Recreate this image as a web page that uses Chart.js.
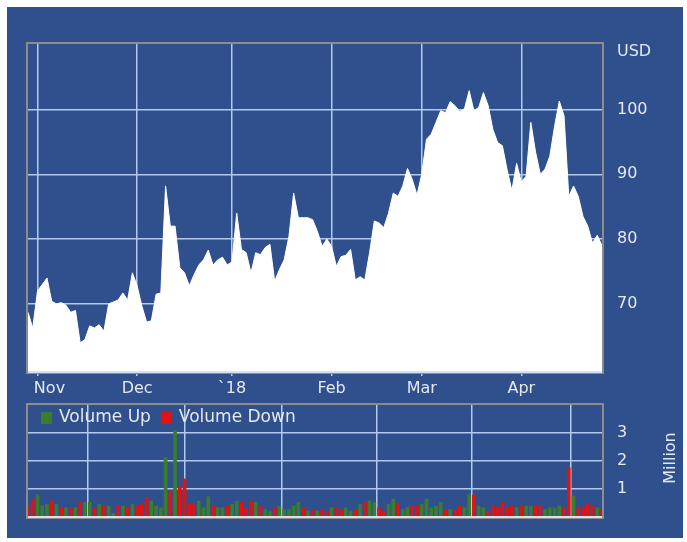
<!DOCTYPE html>
<html>
<head>
<meta charset="utf-8">
<script src="https://cdn.jsdelivr.net/npm/chart.js@4.4.1/dist/chart.umd.min.js"></script>
<style>
html, body { margin: 0; padding: 0; background: #ffffff; }
#bg { position: absolute; left: 7px; top: 7px; width: 676px; height: 531px; background: #2f508c; }
canvas { position: absolute; left: 0; top: 0; }
</style>
</head>
<body>
<div id="bg"></div>
<canvas id="price" width="687" height="542"></canvas>
<canvas id="volume" width="687" height="542"></canvas>
<script>
// trading days Oct 30 2017 .. Apr 25 2018 (weekends + market holidays skipped)
const firstDay = '2017-10-30';
const lastDay = '2018-04-25';
const holidays = ['2017-11-23', '2017-12-25', '2018-01-01', '2018-01-15', '2018-02-19', '2018-03-30'];

const monthKeys = ['2017-11', '2017-12', '2018-01', '2018-02', '2018-03', '2018-04'];
const monthLabels = ['Nov', 'Dec', '`18', 'Feb', 'Mar', 'Apr'];

const priceTicks = [70, 80, 90, 100];
const volumeTicks = [1, 2, 3];

const priceClose = [
  68.7, 66.3, 72.0, 73.0, 74.0, 70.4, 70.0, 70.2, 69.8, 68.7,
  69.0, 64.0, 64.5, 66.6, 66.3, 66.8, 65.8, 70.0, 70.3, 70.6,
  71.7, 70.6, 74.8, 72.8, 69.7, 67.2, 67.4, 71.5, 71.7, 88.2,
  82.0, 82.0, 75.6, 74.8, 72.8, 74.5, 76.0, 76.8, 78.3, 76.0,
  76.8, 77.2, 76.0, 76.5, 84.0, 78.4, 77.9, 74.8, 77.9, 77.6,
  78.7, 79.2, 73.5, 75.3, 76.8, 80.4, 87.1, 83.3, 83.3, 83.3,
  83.0, 81.2, 78.9, 80.0, 78.9, 75.8, 77.3, 77.5, 78.4, 73.7,
  74.2, 73.7, 77.9, 82.8, 82.5, 81.8, 84.0, 87.1, 86.6, 88.2,
  90.9, 89.2, 86.8, 90.0, 95.4, 96.2, 98.0, 99.8, 99.5, 101.2,
  100.6, 99.7, 100.1, 102.9, 99.8, 100.3, 102.6, 100.6, 96.9, 94.9,
  94.4, 90.7, 87.5, 91.7, 88.8, 89.7, 98.0, 93.4, 90.0, 90.8,
  92.8, 97.4, 101.3, 99.0, 86.6, 88.2, 86.6, 83.5, 82.0, 79.4,
  80.6, 79.0
];

const volumeMillions = [
  0.43, 0.64, 0.79, 0.40, 0.45, 0.57, 0.45, 0.33, 0.33, 0.33,
  0.33, 0.52, 0.52, 0.52, 0.33, 0.45, 0.40, 0.39, 0.13, 0.39,
  0.39, 0.33, 0.45, 0.40, 0.45, 0.70, 0.57, 0.39, 0.33, 2.13,
  0.93, 3.08, 1.08, 1.36, 0.45, 0.45, 0.57, 0.33, 0.72, 0.39,
  0.33, 0.33, 0.39, 0.45, 0.57, 0.52, 0.33, 0.57, 0.52, 0.39,
  0.27, 0.21, 0.33, 0.39, 0.27, 0.27, 0.39, 0.52, 0.33, 0.21,
  0.27, 0.21, 0.27, 0.21, 0.33, 0.33, 0.27, 0.33, 0.21, 0.27,
  0.45, 0.52, 0.57, 0.52, 0.33, 0.21, 0.45, 0.64, 0.45, 0.27,
  0.33, 0.39, 0.39, 0.45, 0.64, 0.33, 0.39, 0.52, 0.27, 0.27,
  0.27, 0.39, 0.33, 0.79, 0.79, 0.39, 0.33, 0.21, 0.39, 0.33,
  0.52, 0.33, 0.39, 0.33, 0.39, 0.39, 0.39, 0.39, 0.39, 0.27,
  0.33, 0.33, 0.39, 0.33, 1.76, 0.76, 0.33, 0.33, 0.45, 0.39,
  0.33, 0.27
];

// U = volume up day, D = volume down day
const volumeDirection = (
  'DDUUUDUDUD' + 'UDUUDUDUUD' + 'UDUDDDUUUU' + 'DUDDDDUUUD' + 'UUDUUDDDUD' +
  'UUDUUUUUDU' + 'DUDDUDDUUD' + 'UDUUDDUUDU' + 'UDDUUUUUDU' + 'DDUUDUUDDD' +
  'DDDUDUUDDU' + 'UUUDDUDDDD' + 'UD'
).split('');

const gridColor = '#b2c9f0';
const frameColor = '#8c8c8c';
const textColor = '#e4e8f0';
const upColor = '#3b7d2e';
const downColor = '#e01212';
const axisFont = { family: 'DejaVu Sans', size: 16 };

function buildTradingDays() {
  const out = [];
  const d = new Date(firstDay + 'T12:00:00Z');
  const end = new Date(lastDay + 'T12:00:00Z');
  while (d <= end) {
    const iso = d.toISOString().slice(0, 10);
    const wd = d.getUTCDay();
    if (wd !== 0 && wd !== 6 && !holidays.includes(iso)) out.push(iso);
    d.setUTCDate(d.getUTCDate() + 1);
  }
  return out;
}

const tradingDays = buildTradingDays();
const monthStart = monthKeys.map(m => tradingDays.findIndex(day => day.startsWith(m)));

function keepMonthTicks(scale) {
  scale.ticks = monthStart.map(i => ({ value: i }));
}

const framePlugin = {
  id: 'frame',
  afterDraw(chart) {
    const { ctx, chartArea: a } = chart;
    ctx.save();
    ctx.strokeStyle = frameColor;
    ctx.lineWidth = 2;
    ctx.strokeRect(a.left - 1, a.top - 1, a.right - a.left + 2, a.bottom - a.top + 2);
    ctx.strokeStyle = '#d6e2f4';
    ctx.beginPath();
    ctx.moveTo(a.left, a.bottom);
    ctx.lineTo(a.right, a.bottom);
    ctx.stroke();
    ctx.restore();
  }
};

const priceExtras = {
  id: 'priceExtras',
  afterDraw(chart) {
    const ctx = chart.ctx;
    ctx.save();
    ctx.fillStyle = textColor;
    ctx.font = '16px "DejaVu Sans"';
    ctx.textBaseline = 'middle';
    ctx.fillText('USD', 617, 52);
    ctx.restore();
  }
};

const volumeExtras = {
  id: 'volumeExtras',
  afterDraw(chart) {
    const ctx = chart.ctx;
    const a = chart.chartArea;
    ctx.save();
    ctx.font = '17px "DejaVu Sans"';
    ctx.textBaseline = 'middle';
    let x = a.left + 13;
    const y = a.top + 13;
    chart.data.datasets.forEach(ds => {
      ctx.fillStyle = ds.backgroundColor;
      ctx.fillRect(x, y - 6, 11, 12);
      ctx.fillStyle = textColor;
      ctx.fillText(ds.label, x + 18, y);
      x += 18 + ctx.measureText(ds.label).width + 10;
    });
    ctx.translate(671, 458);
    ctx.rotate(-Math.PI / 2);
    ctx.textAlign = 'center';
    ctx.font = '16px "DejaVu Sans"';
    ctx.fillText('Million', 0, 0);
    ctx.restore();
  }
};

new Chart(document.getElementById('price'), {
  type: 'line',
  data: {
    labels: tradingDays,
    datasets: [{
      data: priceClose,
      borderColor: '#ffffff',
      borderWidth: 1,
      backgroundColor: '#ffffff',
      fill: 'start',
      pointRadius: 0,
      tension: 0
    }]
  },
  options: {
    responsive: false,
    animation: false,
    layout: { padding: { left: 28, top: 44, right: 0, bottom: 0 } },
    plugins: { legend: { display: false }, tooltip: { enabled: false } },
    scales: {
      x: {
        type: 'category',
        offset: false,
        afterBuildTicks: keepMonthTicks,
        afterFit(scale) { scale.height = 170; },
        border: { display: false },
        grid: { color: gridColor, lineWidth: 1.5, drawTicks: true, tickLength: 4 },
        ticks: {
          autoSkip: false,
          maxRotation: 0,
          color: textColor,
          font: axisFont,
          padding: 3,
          callback(value) {
            const i = monthStart.indexOf(value);
            // first label sits clear of the left frame
            return i === 0 ? '\u2002\u2002\u2002' + monthLabels[i] : monthLabels[i];
          }
        }
      },
      y: {
        position: 'right',
        min: 59.5,
        max: 110.1,
        afterBuildTicks(scale) { scale.ticks = priceTicks.map(v => ({ value: v })); },
        afterFit(scale) { scale.width = 85; },
        border: { display: false },
        grid: { color: gridColor, lineWidth: 1.5, drawTicks: false },
        ticks: { color: textColor, font: axisFont, padding: 15 }
      }
    }
  },
  plugins: [framePlugin, priceExtras]
});

new Chart(document.getElementById('volume'), {
  type: 'bar',
  data: {
    labels: tradingDays,
    datasets: [
      {
        label: 'Volume Up',
        data: volumeMillions.map((v, i) => volumeDirection[i] === 'U' ? v : null),
        backgroundColor: upColor
      },
      {
        label: 'Volume Down',
        data: volumeMillions.map((v, i) => volumeDirection[i] === 'D' ? v : null),
        backgroundColor: downColor
      }
    ]
  },
  options: {
    responsive: false,
    animation: false,
    layout: { padding: { left: 28, top: 405, right: 0, bottom: 0 } },
    datasets: { bar: { grouped: false, barThickness: 3 } },
    plugins: { legend: { display: false }, tooltip: { enabled: false } },
    scales: {
      x: {
        type: 'category',
        offset: false,
        afterBuildTicks: keepMonthTicks,
        afterFit(scale) { scale.height = 25; },
        border: { display: false },
        grid: { color: gridColor, lineWidth: 1.5, drawTicks: false },
        ticks: { display: false }
      },
      y: {
        position: 'right',
        min: 0,
        max: 4,
        afterBuildTicks(scale) { scale.ticks = volumeTicks.map(v => ({ value: v })); },
        afterFit(scale) { scale.width = 85; },
        border: { display: false },
        grid: { color: gridColor, lineWidth: 1.5, drawTicks: false },
        ticks: { color: textColor, font: axisFont, padding: 15 }
      }
    }
  },
  plugins: [framePlugin, volumeExtras]
});
</script>
</body>
</html>
